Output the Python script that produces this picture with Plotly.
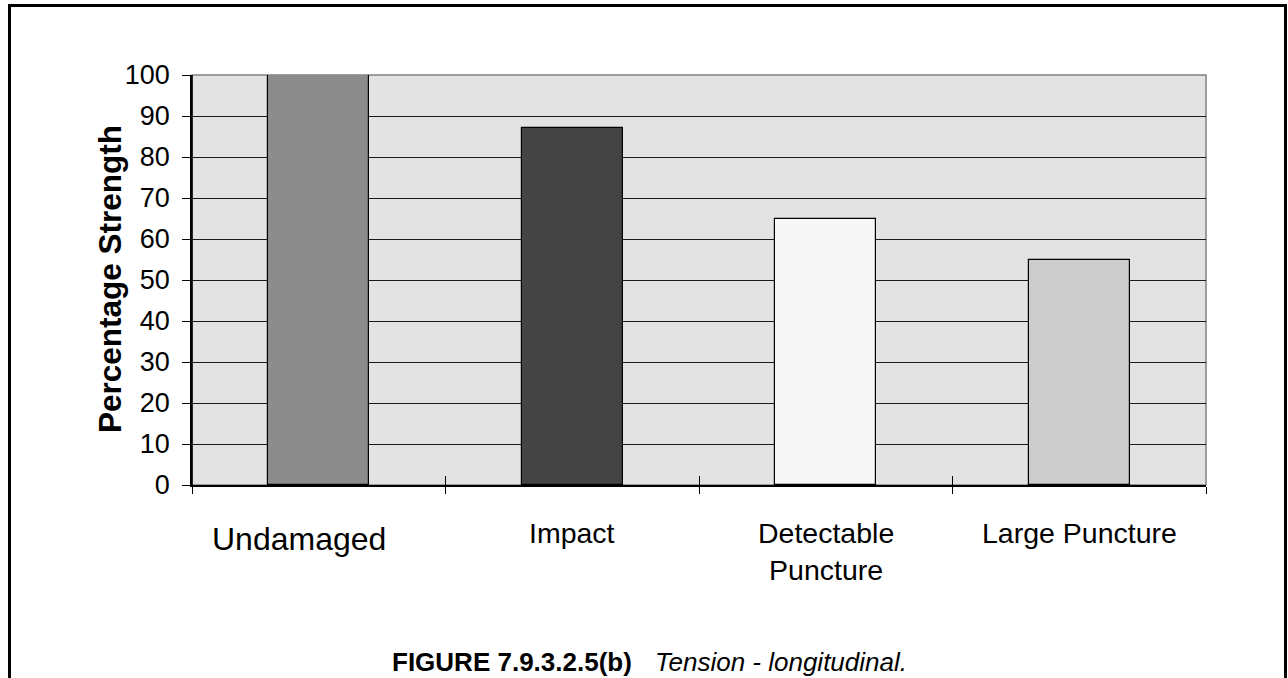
import plotly.graph_objects as go

categories = ["Undamaged", "Impact", "Detectable<br>Puncture", "Large Puncture"]
values = [100, 87, 65, 55]
bar_colors = ["#8c8c8c", "#444444", "#f7f7f7", "#cccccc"]
label_sizes = [32, 28.5, 28.5, 28.5]
label_shift = [-20, 0, 0, 0]
y_ticks = list(range(0, 101, 10))

W, H = 1288, 678
L, R, T, B = 192, 1206, 75, 485

xpos = [i + 0.5 for i in range(len(categories))]
px = lambda v: (v - L) / (R - L)
py = lambda v: (B - v) / (B - T)

fig = go.Figure()
fig.add_trace(go.Bar(
    x=xpos, y=values, width=0.4,
    marker=dict(color=bar_colors, line=dict(color="#000000", width=1.2)),
    hoverinfo="skip", showlegend=False,
))
fig.add_trace(go.Scatter(x=[0, len(categories)], y=[0, 0], xaxis="x2", mode="markers",
                         marker=dict(opacity=0), hoverinfo="skip", showlegend=False))

fig.update_layout(
    width=W, height=H,
    paper_bgcolor="white", plot_bgcolor="#e3e3e3",
    margin=dict(l=L, r=W - R, t=T, b=H - B, pad=0),
    font=dict(family="Liberation Sans, Arial, sans-serif", color="#000000"),
    bargap=0,
    xaxis=dict(range=[0, len(categories)], tickmode="array",
               tickvals=list(range(len(categories) + 1)), ticktext=[""] * (len(categories) + 1),
               ticks="outside", ticklen=7, tickcolor="#000000", tickwidth=1,
               showgrid=False, zeroline=False, showline=True, linecolor="#000000", linewidth=1.5,
               fixedrange=True),
    xaxis2=dict(range=[0, len(categories)], overlaying="x", side="bottom", anchor="y",
                tickmode="array", tickvals=list(range(len(categories) + 1)),
                ticktext=[""] * (len(categories) + 1),
                ticks="inside", ticklen=9, tickcolor="#000000", tickwidth=1,
                showgrid=False, zeroline=False, showline=False),
    yaxis=dict(range=[0, 100], tickmode="array", tickvals=y_ticks,
               ticks="outside", ticklen=8, tickcolor="#000000", tickwidth=1,
               ticklabelstandoff=7,
               tickfont=dict(size=27), showgrid=True, gridcolor="#1a1a1a", gridwidth=1,
               zeroline=False, showline=True, linecolor="#000000", linewidth=1.5),
)

# plot-area gray border
fig.add_shape(type="rect", xref="paper", yref="paper", x0=0, x1=1, y0=0, y1=1,
              line=dict(color="#808080", width=1.5), layer="below")
fig.add_shape(type="line", xref="paper", yref="paper", x0=0, x1=0, y0=0, y1=1,
              line=dict(color="#000000", width=1.5))

# outer frame
fig.add_shape(type="rect", xref="paper", yref="paper",
              x0=px(9.5), x1=px(1285.5), y0=py(700), y1=py(5.5),
              line=dict(color="#000000", width=3))

# y-axis title
fig.add_annotation(x=px(110), y=py(279), xref="paper", yref="paper", showarrow=False,
                   text="<b>Percentage Strength</b>", textangle=-90,
                   xanchor="center", yanchor="middle", font=dict(size=31.5))

for i, c in enumerate(categories):
    fig.add_annotation(x=xpos[i], y=0, xref="x", yref="y", text=c, showarrow=False,
                       yanchor="top", xanchor="center", xshift=label_shift[i],
                       yshift=-(34 if i == 0 else 30),
                       font=dict(size=label_sizes[i]))

fig.add_annotation(x=px(390), y=py(662), xref="paper", yref="paper", showarrow=False,
                   yanchor="middle", xanchor="left",
                   text="<b>FIGURE 7.9.3.2.5(b)</b>", font=dict(size=26))
fig.add_annotation(x=px(653), y=py(662), xref="paper", yref="paper", showarrow=False,
                   yanchor="middle", xanchor="left",
                   text="<i>Tension - longitudinal.</i>", font=dict(size=26))

fig.write_html("out.html", config={"displayModeBar": False},
               post_script="document.body.style.margin='0px';document.body.style.overflow='hidden';")
